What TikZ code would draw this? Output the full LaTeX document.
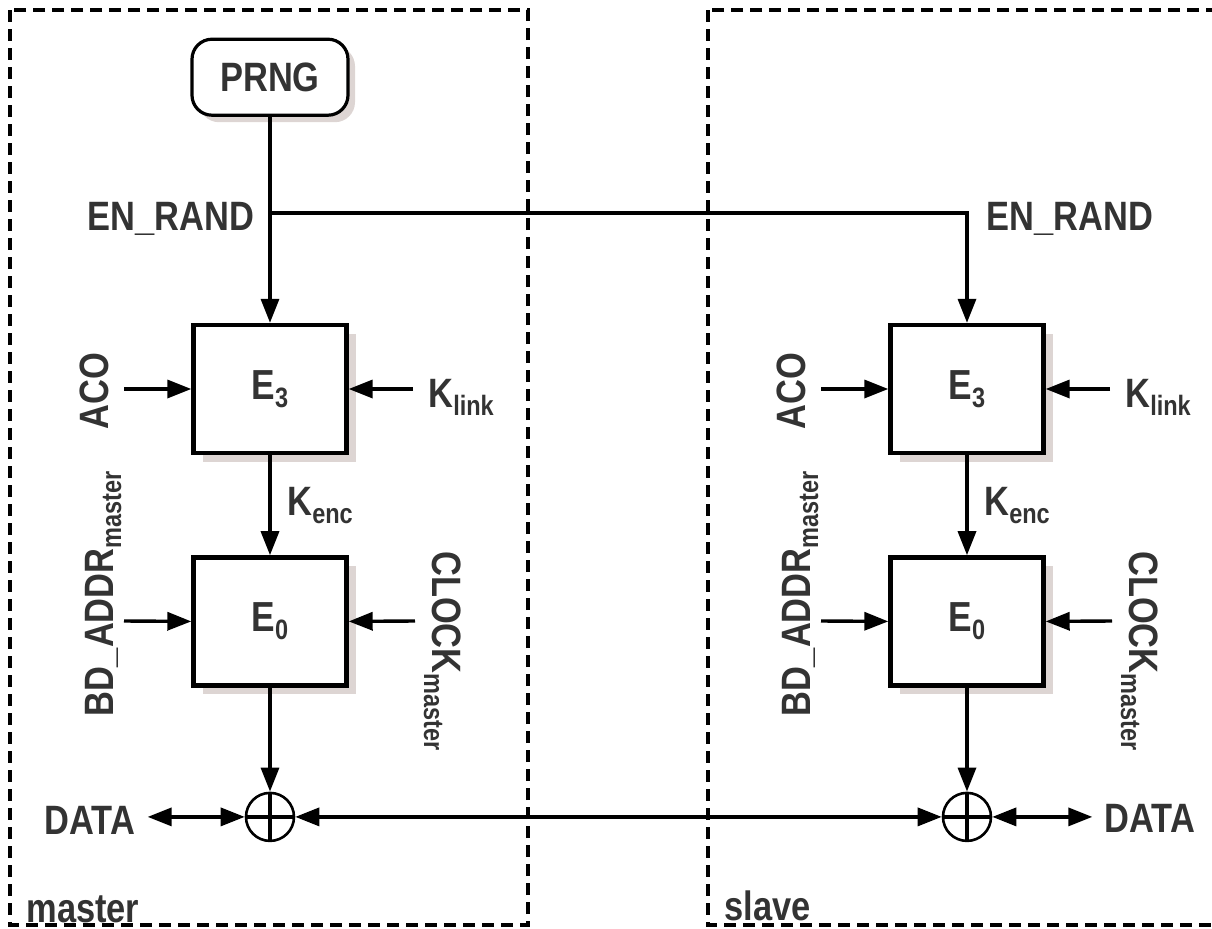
\documentclass[tikz,border=0pt]{standalone}
\usepackage{fontspec}
\setmainfont{Liberation Sans}[FakeStretch=0.84]
\usetikzlibrary{arrows.meta,positioning,shadows}
\definecolor{labelgray}{HTML}{333333}
\definecolor{shadowtan}{HTML}{DDD5D3}
\newcommand{\lowtxt}[1]{\raisebox{-4pt}{\fontsize{14}{14}\selectfont#1}}

\begin{document}
\begin{tikzpicture}[x=0.5pt,y=-0.5pt,
  font=\fontsize{20.5}{24}\selectfont\bfseries,text=labelgray,
  box/.style={draw=black,line width=2.2pt,fill=white,minimum width=76.5pt,minimum height=64pt,
    font=\fontsize{21}{24}\selectfont\bfseries,
    drop shadow={shadow xshift=4.5pt,shadow yshift=-4.5pt,fill=shadowtan,opacity=1}},
  pill/.style={draw=black,line width=1.6pt,fill=white,rounded corners=10pt,
    minimum width=78pt,minimum height=38pt,
    drop shadow={shadow xshift=3.5pt,shadow yshift=-3.5pt,fill=shadowtan,opacity=1}},
  xor/.style={circle,draw=black,line width=1.3pt,minimum size=24pt,inner sep=0pt,fill=white,
    path picture={\draw[line width=2.4pt]
      (path picture bounding box.north) -- (path picture bounding box.south)
      (path picture bounding box.west) -- (path picture bounding box.east);}},
  lbl/.style={inner sep=0pt,anchor=base},
  flow/.style={-{Triangle[length=12pt,width=9pt]},line width=1.7pt},
  both/.style={{Triangle[length=12pt,width=9pt]}-{Triangle[length=12pt,width=9pt]},line width=1.7pt},
  frame/.style={line width=1.8pt,dash pattern=on 6pt off 3.5pt}]
\clip (0,0) rectangle (1212,928);
\draw[frame] (10,10) rectangle (528,925);
\draw[frame] (708,10) rectangle (1226,925);
\node[box] (mE3) at (270,389) {E\lowtxt{3}};
\node[box,below=50pt of mE3] (mE0) {E\lowtxt{0}};
\node[xor,below=52pt of mE0] (mxor) {};
\node[pill,above=103pt of mE3] (prng) {PRNG};
\node[box] (sE3) at (967,389) {E\lowtxt{3}};
\node[box,below=50pt of sE3] (sE0) {E\lowtxt{0}};
\node[xor,below=52pt of sE0] (sxor) {};
\node[lbl] (mrand) at (171,230) {EN\_RAND};
\node[lbl] (srand) at (1070,230) {EN\_RAND};
\node[lbl,rotate=90] (maco) at (108,391) {ACO};
\node[lbl,rotate=90] (maddr) at (113,594) {BD\_ADDR\lowtxt{master}};
\node[lbl,anchor=base west] (mklink) at (428,407) {K\lowtxt{link}};
\node[lbl,anchor=base west] (menc) at (287,515) {K\lowtxt{enc}};
\node[lbl,rotate=-90] (mclock) at (432,651) {CLOCK\lowtxt{master}};
\node[lbl,inner sep=6pt] (mdata) at (90,834) {DATA};
\node[lbl,anchor=base west] (mname) at (26,922) {master};
\node[lbl,rotate=90] (saco) at (805,391) {ACO};
\node[lbl,rotate=90] (saddr) at (810,594) {BD\_ADDR\lowtxt{master}};
\node[lbl,anchor=base west] (sklink) at (1125,407) {K\lowtxt{link}};
\node[lbl,anchor=base west] (senc) at (984,515) {K\lowtxt{enc}};
\node[lbl,rotate=-90] (sclock) at (1129,651) {CLOCK\lowtxt{master}};
\node[lbl,inner sep=6pt] (sdata) at (1150,832) {DATA};
\node[lbl,anchor=base west] (sname) at (724,920) {slave};
\coordinate (split) at (270,213);
\coordinate (macoin) at (124,389);
\coordinate (mklinkin) at (413,389);
\coordinate (maddrin) at (124,621);
\coordinate (mclockin) at (415,621);
\coordinate (sacoin) at (821,389);
\coordinate (sklinkin) at (1110,389);
\coordinate (saddrin) at (821,621);
\coordinate (sclockin) at (1112,621);
\draw[flow] (prng) -- (mE3);
\draw[flow] (split) -| (sE3.north);
\draw[flow] (macoin) -- (mE3.west);
\draw[flow] (mklinkin) -- (mE3.east);
\draw[flow] (mE3) -- (mE0);
\draw[flow] (maddrin) -- (mE0.west);
\draw[flow] (mclockin) -- (mE0.east);
\draw[flow] (mE0) -- (mxor);
\draw[flow] (sacoin) -- (sE3.west);
\draw[flow] (sklinkin) -- (sE3.east);
\draw[flow] (sE3) -- (sE0);
\draw[flow] (saddrin) -- (sE0.west);
\draw[flow] (sclockin) -- (sE0.east);
\draw[flow] (sE0) -- (sxor);
\draw[both] (mdata.east |- mxor) -- (mxor.west);
\draw[both] (mxor) -- (sxor);
\draw[both] (sxor.east) -- (sdata.west |- sxor);
\end{tikzpicture}
\end{document}
